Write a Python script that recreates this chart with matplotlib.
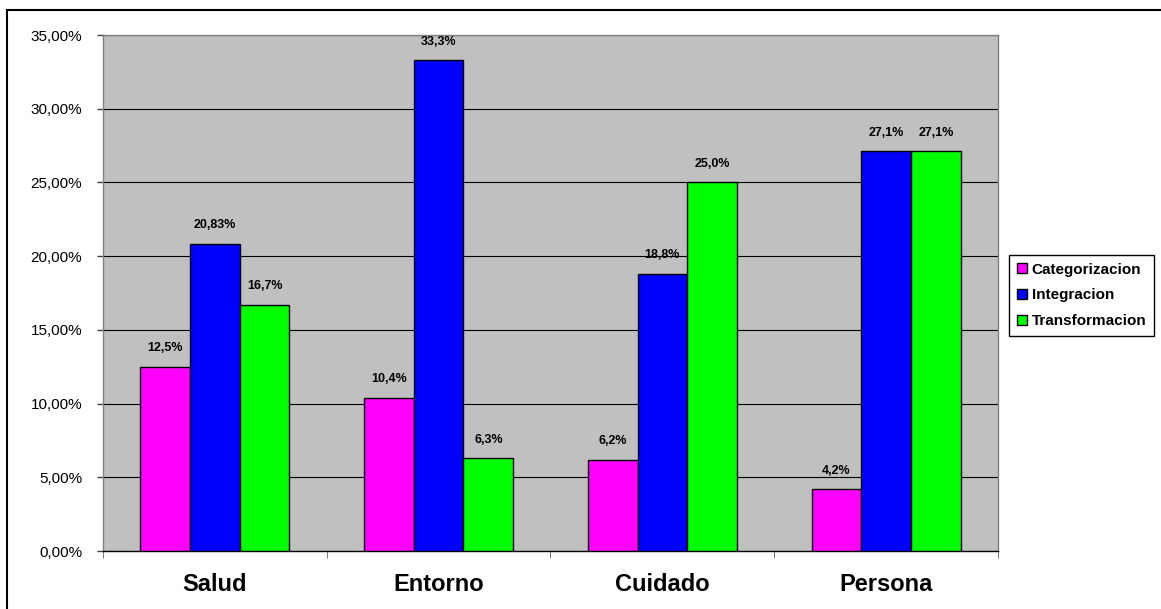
import matplotlib
matplotlib.use('Agg')
from matplotlib import pyplot as plt
from matplotlib.lines import Line2D
import numpy as np

# Data
categories = ['Salud', 'Entorno', 'Cuidado', 'Persona']
series_names = ['Categorizacion', 'Integracion', 'Transformacion']
categorizacion = [12.5, 10.4, 6.2, 4.2]
integracion = [20.83, 33.3, 18.8, 27.1]
transformacion = [16.7, 6.3, 25.0, 27.1]
labels_cat = ['12,5%', '10,4%', '6,2%', '4,2%']
labels_int = ['20,83%', '33,3%', '18,8%', '27,1%']
labels_tra = ['16,7%', '6,3%', '25,0%', '27,1%']
yticks = [0, 5, 10, 15, 20, 25, 30, 35]

plt.rcParams['font.family'] = ['Liberation Sans', 'DejaVu Sans']

fig = plt.figure(figsize=(11.61, 6.09), dpi=100)
ax = fig.add_axes([0.0887, 0.0952, 0.7709, 0.8473])
ax.set_facecolor('#C0C0C0')

# Excel style: gap width 150% -> bar width = 1 / 4.5 of a category
bw = 1 / 4.5
x = np.arange(len(categories))
colors = ['#FF00FF', '#0000FF', '#00FF00']
all_values = [categorizacion, integracion, transformacion]
all_labels = [labels_cat, labels_int, labels_tra]

for i, (vals, labs) in enumerate(zip(all_values, all_labels)):
    pos = x + (i - 1) * bw
    bars = ax.bar(pos, vals, width=bw, color=colors[i], edgecolor='black',
                  linewidth=1, label=series_names[i], zorder=3)
    for b, lab in zip(bars, labs):
        ax.annotate(lab, (b.get_x() + b.get_width() / 2, b.get_height()),
                    xytext=(0, 9), textcoords='offset points', ha='center',
                    va='bottom', fontsize=9, fontweight='bold')

# Axes format
ax.set_xlim(-0.5, len(categories) - 0.5)
ax.set_ylim(0, 35)
ax.set_yticks(yticks)
ax.set_yticklabels([('%.2f%%' % v).replace('.', ',') for v in yticks])
ax.yaxis.grid(True, color='black', linewidth=0.8, zorder=1)
ax.set_axisbelow(True)
ax.tick_params(axis='y', labelsize=11, length=4.5, width=1, color='#404040', pad=10.5)

ax.set_xticks(x)
ax.set_xticklabels(categories, fontsize=17, fontweight='bold')
ax.set_xticks(np.arange(-0.5, len(categories)), minor=True)
ax.tick_params(axis='x', which='major', length=0, pad=16)
ax.tick_params(axis='x', which='minor', length=5, color='#606060')

for side in ['left', 'right', 'top']:
    ax.spines[side].set_color('#808080')
    ax.spines[side].set_linewidth(1)
ax.spines['bottom'].set_color('black')
ax.spines['bottom'].set_linewidth(1)

# Legend on the right
leg = fig.legend(loc='upper left', bbox_to_anchor=(0.8695, 0.5815),
                 prop={'weight': 'bold', 'size': 11},
                 handlelength=0.65, handleheight=0.65, handletextpad=0.3,
                 labelspacing=0.78, borderpad=0.5, borderaxespad=0,
                 fancybox=False, edgecolor='black', framealpha=1)
leg.get_frame().set_linewidth(1)

# Outer frame of the chart object (top and left edges visible)
fig.add_artist(Line2D([0.006, 1.0], [0.9836, 0.9836], color='black', linewidth=1.5))
fig.add_artist(Line2D([0.006, 0.006], [0.0, 0.9836], color='black', linewidth=1.5))

fig.savefig('out.png', dpi=100)
